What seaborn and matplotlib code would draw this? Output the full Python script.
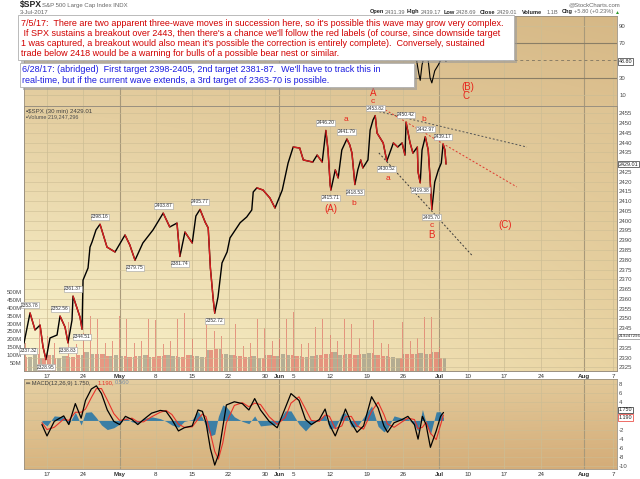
import numpy as np
import seaborn as sns
import matplotlib.pyplot as plt
import matplotlib.transforms as mtrans
from matplotlib.patches import Rectangle

sns.set_style("white")
plt.rcParams["font.family"] = ["Liberation Sans", "DejaVu Sans"]

# x = trading-day index, 0 = Mon 17 Apr 2017 (fraction = time inside the session)
price_day = [-3.17, -2.34, -1.65, -0.96, -0.55, -0.14, 0.41, 1.38, 1.79, 2.48,
             2.89, 3.44, 3.58, 4.13, 4.55, 4.82, 4.96, 5.65, 5.92, 6.2,
             6.75, 7.3, 8.26, 9.37, 10.74, 11.4, 12.12, 13.2, 14.6, 16.0,
             16.9, 17.9, 18.3, 19.0, 20.0, 20.5, 21.07, 21.8, 22.2, 22.5,
             22.9, 23.1, 23.55, 24.1, 24.8, 25.2, 26.6, 27.5, 28.2, 28.4,
             28.9, 29.75, 30.7, 31.4, 32.4, 33.2, 33.9, 34.8, 35.3, 36.6,
             37.2, 37.9, 38.4, 38.7, 39.0, 39.1, 39.7, 40.1, 40.6, 41.3,
             41.7, 42.0, 42.4, 42.8, 43.2, 43.5, 44.2, 44.5, 44.9, 45.2,
             45.45, 46.3, 46.8, 47.7, 48.3, 48.9, 49.3, 49.45, 50.0, 50.4,
             51.0, 51.1, 51.4, 51.65, 52.1, 52.5, 52.75, 53.0, 53.4, 53.9,
             54.3, 54.55, 54.8, 54.95]
price = [2337.4, 2352.8, 2344.1, 2346.6, 2335.4, 2328.95, 2340.0, 2341.5, 2351.2, 2345.6,
         2337.5, 2349.1, 2361.4, 2355.3, 2350.6, 2344.5, 2369.6, 2375.8, 2386.5, 2389.1,
         2395.3, 2398.2, 2386.5, 2384.0, 2392.7, 2387.6, 2379.8, 2388.6, 2395.3, 2403.9,
         2396.8, 2398.8, 2381.7, 2394.2, 2388.6, 2402.4, 2405.8, 2399.1, 2396.3, 2375.8,
         2359.4, 2352.7, 2361.0, 2378.4, 2384.0, 2391.2, 2399.0, 2401.9, 2405.5, 2414.7,
         2416.8, 2415.7, 2411.6, 2406.5, 2415.7, 2429.5, 2437.7, 2437.2, 2431.1, 2430.0,
         2433.6, 2430.0, 2446.2, 2436.2, 2418.3, 2415.7, 2426.0, 2421.9, 2436.2, 2441.8,
         2438.7, 2434.6, 2418.5, 2426.0, 2431.1, 2427.0, 2431.1, 2446.4, 2451.6, 2453.8,
         2444.9, 2439.8, 2430.5, 2439.8, 2437.7, 2439.8, 2433.6, 2450.4, 2439.8, 2434.6,
         2437.7, 2425.0, 2419.4, 2436.2, 2443.0, 2436.2, 2421.9, 2405.7, 2419.8, 2426.0,
         2429.5, 2439.2, 2436.2, 2429.0]

# volume per session (millions): opening bar, typical intraday bar, closing bar
vol_day = list(range(-3, 55))
vol_open = [180, 200, 170, 220, 180, 200, 190, 170, 240, 210,
            200, 180, 190, 200, 170, 180, 190, 200, 180, 170,
            190, 210, 180, 200, 190, 230, 250, 220, 180, 170,
            160, 180, 150, 200, 190, 210, 200, 190, 170, 180,
            190, 200, 230, 190, 200, 190, 210, 220, 190, 180,
            170, 160, 230, 190, 210, 190, 200, 150]
vol_mid = [90, 105, 85, 100, 85, 95, 90, 100, 120, 105,
           110, 95, 100, 95, 90, 95, 100, 90, 95, 100,
           95, 90, 100, 95, 90, 130, 140, 110, 100, 95,
           90, 95, 85, 100, 95, 110, 100, 95, 90, 95,
           100, 105, 120, 100, 105, 100, 110, 115, 100, 95,
           90, 85, 110, 105, 115, 110, 120, 80]
vol_close = [300, 330, 260, 300, 250, 310, 260, 290, 350, 330,
             385, 330, 350, 330, 350, 320, 330, 320, 340, 300,
             330, 370, 330, 300, 320, 375, 390, 330, 300, 330,
             290, 330, 270, 310, 385, 330, 375, 300, 320, 280,
             330, 350, 310, 330, 300, 340, 380, 320, 300, 330,
             290, 310, 418, 260, 344, 344, 344, 219]

# MACD(12,26,9)
macd_day = [-0.7, 0, 1, 2.3, 3, 3.9, 4.7, 5.3, 6.1, 6.8,
            7.5, 8.3, 9.2, 10, 10.8, 11.7, 12.5, 13.3, 14.4, 15.6,
            16.4, 17.2, 18.1, 18.9, 20, 20.8, 21.4, 21.9, 22.5, 23.1,
            23.6, 24.2, 24.7, 25.8, 26.9, 27.8, 28.6, 29.4, 30.6, 31.7,
            32.8, 33.6, 34.7, 35.6, 36.4, 37.5, 38.3, 38.9, 39.7, 40.6,
            41.1, 41.9, 42.7, 43.6, 44.7, 45.6, 46.4, 46.9, 47.8, 48.9,
            49.7, 50.6, 51.1, 51.7, 52.2, 52.8, 53.6, 54.2, 54.6]
macd_line = [-0.9, -3.4, -0.2, 1.0, -0.9, 3.7, 0.5, 4.4, 6.9, 7.6,
             5.9, 2.3, -0.2, -0.9, 0.9, 0.2, -0.9, 0.2, 1.6, 2.2,
             2.0, 0.2, -2.3, -1.6, -1.2, 2.3, 2.0, -0.5, -6.2, -9.8,
             -7.6, -1.6, 3.4, 4.1, 3.7, 2.3, 4.8, 2.3, -0.2, -1.6,
             2.7, 5.9, 4.4, 0.2, -0.9, 0.2, 2.5, -0.9, -3.4, 0.2,
             2.5, -0.5, -2.6, -1.2, 5.2, 2.7, -1.2, -2.6, -0.5, 0.2,
             0.9, -0.9, -4.1, 0.9, -0.9, -5.9, -2.3, 0.9, 1.75]
macd_signal = [-0.5, -2.0, -1.5, 0.3, 0.0, 1.8, 1.8, 2.5, 5.0, 7.0,
               7.0, 4.5, 1.5, 0.0, 0.2, 0.5, -0.3, -0.3, 0.8, 1.8,
               2.2, 1.3, -0.8, -1.5, -1.4, 0.3, 1.4, 0.8, -2.8, -6.8,
               -8.5, -5.0, -0.5, 3.3, 3.9, 3.0, 3.8, 3.5, 0.8, -0.8,
               0.6, 3.8, 5.2, 2.5, 0.0, -0.2, 1.2, 0.9, -1.8, -1.2,
               0.8, 0.9, -1.2, -1.9, 2.0, 4.0, 1.3, -0.8, -1.5, -0.3,
               0.5, 0.2, -1.8, -1.5, -0.4, -2.8, -4.2, -1.0, 1.19]
macd_hist = [-0.4, -1.2, 1.0, 0.8, -0.8, 1.8, -1.0, 1.8, 1.9, 0.6,
             -1.0, -2.0, -1.6, -0.8, 0.6, -0.3, -0.6, 0.4, 0.8, 0.4,
             -0.2, -1.0, -1.5, -0.2, 0.2, 2.0, 0.6, -1.3, -3.4, -3.0,
             0.9, 3.4, 3.0, 0.8, -0.2, -0.7, 1.0, -1.2, -1.0, -0.8,
             2.1, 2.1, -0.8, -2.3, -0.9, 0.4, 1.3, -1.8, -1.6, 1.4,
             1.7, -1.4, -1.4, 0.7, 3.2, -1.3, -2.5, -1.8, 1.0, 0.5,
             0.4, -1.1, -2.3, 2.4, -0.5, -3.1, 1.9, 1.9, 0.56]

# RSI, only the tail is visible under the comment boxes
rsi_day = [49.0, 49.5, 50.0, 50.5, 50.9, 51.2, 51.4, 51.65, 52.1, 52.5,
           52.75, 53.0, 53.4, 53.9, 54.3, 54.55, 54.95]
rsi = [62, 55, 58, 52, 50, 35, 27, 45, 60, 50, 30, 24, 38, 45, 52, 58, 48.8]

tick_day = [0, 5, 10, 15, 20, 25, 30, 32, 34, 39, 44, 49, 54, 58, 63, 68, 74, 78]
tick_text = ["17", "24", "May", "8", "15", "22", "30", "Jun", "5", "12", "19",
             "26", "Jul", "10", "17", "24", "Aug", "7"]
month_text = ["May", "Jun", "Jul", "Aug"]

# StockCharts price labels
lab_day = [-2.34, 1.79, 3.58, 7.3, 16.0, 21.07, 38.4, 41.3, 45.2, 49.45, 52.1, 54.55,
           -2.6, -0.14, 2.89, 4.82, 12.12, 18.3, 23.1, 39.1, 42.4, 46.8, 51.4, 53.0]
lab_price = [2352.8, 2351.2, 2361.4, 2398.2, 2403.9, 2405.8, 2446.2, 2441.8, 2453.8, 2450.4, 2443.0, 2439.2,
             2337.4, 2328.95, 2337.5, 2344.5, 2379.8, 2381.7, 2352.7, 2415.7, 2418.5, 2430.5, 2419.4, 2405.7]
lab_text = ["2353.78", "2352.56", "2361.37", "2398.16", "2403.87", "2405.77", "2446.20",
            "2441.79", "2453.82", "2450.42", "2442.97", "2439.17",
            "2337.32", "2328.95", "2338.83", "2344.51", "2379.75", "2381.74", "2352.72",
            "2415.71", "2418.53", "2430.52", "2419.38", "2405.70"]
lab_above = [True] * 12 + [False] * 12

# Elliott wave labels
wave_text = ["A", "c", "(B)", "C", "a", "(A)", "b", "a", "b", "c", "B", "(C)"]
wave_day = [44.9, 44.8, 57.9, 57.7, 41.2, 39.1, 42.3, 47.0, 51.9, 53.0, 53.0, 63.1]
wave_price = [2465.5, 2460.8, 2468.5, 2463.9, 2452.0, 2405.8, 2409.0, 2421.8, 2451.8,
              2397.5, 2392.8, 2397.8]
wave_size = [7, 6, 7, 7, 6, 7, 6, 6, 6, 6, 7, 7]

# hand-drawn trend lines: (day0, price0, day1, price1)
trend_lines = {
    "upper": (44.2, 2457.2, 66.1, 2437.7),
    "red": (46.6, 2456.7, 64.7, 2417.3),
    "lower": (45.7, 2434.7, 58.5, 2382.4),
}
trend_colors = {"upper": "#555555", "red": "#e03a30", "lower": "#3a3a3a"}

note1 = ["7/5/17:  There are two apparent three-wave moves in succession here, so it's possible this wave may grow very complex.",
         " If SPX sustains a breakout over 2443, then there's a chance we'll follow the red labels (of course, since downside target",
         "1 was captured, a breakout would also mean it's possible the correction is entirely complete).  Conversely, sustained",
         "trade below 2418 would be a warning for bulls of a possible bear nest or similar."]
note2 = ["6/28/17: (abridged)  First target 2398-2405, 2nd target 2381-87.  We'll have to track this in",
         "real-time, but if the current wave extends, a 3rd target of 2363-70 is possible."]

W, H = 640, 479
XL = (-3.17, 78.5)
GRID = (0.80, 0.74, 0.58)
TXT = "#4a4a4a"


def rect(x0, y0, x1, y1):
    return [x0 / W, 1 - y1 / H, (x1 - x0) / W, (y1 - y0) / H]


def shade(ax, tl, tr, bl, br):
    c = np.array([[tl, tr], [bl, br]], dtype=float) / 255
    u = np.linspace(0, 1, 64)[None, :, None]
    v = np.linspace(0, 1, 64)[:, None, None]
    top = c[0, 0] * (1 - u) + c[0, 1] * u
    bot = c[1, 0] * (1 - u) + c[1, 1] * u
    ax.imshow(top * (1 - v) + bot * v, extent=[0, 1, 0, 1], transform=ax.transAxes,
              aspect="auto", zorder=0, interpolation="bilinear")


def frame(ax):
    for s in ax.spines.values():
        s.set_color("#9a9080")
        s.set_linewidth(0.6)
    ax.tick_params(length=0, labelsize=4.3, labelcolor=TXT, pad=1.5)


def vgrid(ax):
    for d, t in zip(tick_day, tick_text):
        strong = t in month_text
        ax.axvline(d, color=(0.66, 0.6, 0.48) if strong else GRID,
                   lw=0.8 if strong else 0.5, zorder=0.5)


def right_box(ax, value, text, edge, va="center", size=3.9):
    tr = mtrans.blended_transform_factory(ax.transAxes, ax.transData)
    ax.text(1.003, value, text, transform=tr, fontsize=size, va=va, ha="left",
            color="#222222", clip_on=False, zorder=6,
            bbox=dict(boxstyle="square,pad=0.15", fc="white", ec=edge, lw=0.5))


def tick_labels(values, skip, fmt="{}"):
    return [("" if v in skip else fmt.format(v)) for v in values]


fig = plt.figure(figsize=(6.4, 4.79), dpi=100)
fig.patch.set_facecolor("white")

ax_rsi = fig.add_axes(rect(24, 16, 617, 106))
ax_vol = fig.add_axes(rect(24, 106, 617, 371))
ax_px = ax_vol.twinx()
ax_macd = fig.add_axes(rect(24, 379, 617, 469))

# ---- RSI panel
shade(ax_rsi, (222, 198, 150), (214, 184, 134), (229, 207, 162), (221, 193, 144))
vgrid(ax_rsi)
for lvl in [10, 90]:
    ax_rsi.axhline(lvl, color=GRID, lw=0.5, zorder=0.5)
for lvl in [30, 70]:
    ax_rsi.axhline(lvl, color="#8a7e66", lw=0.8, zorder=0.6)
ax_rsi.axhline(50, color="#8a7e66", lw=0.7, ls=(0, (3, 3)), zorder=0.6)
sns.lineplot(x=rsi_day, y=rsi, ax=ax_rsi, color="black", lw=0.8, sort=False, estimator=None)
ax_rsi.set_xlim(*XL)
ax_rsi.set_ylim(-2.8, 101.6)
ax_rsi.yaxis.tick_right()
ax_rsi.set_yticks([10, 30, 70, 90])
ax_rsi.set_xticks([])
frame(ax_rsi)
right_box(ax_rsi, rsi[-1], "48.80", "#333333")

# ---- volume (behind the price)
shade(ax_vol, (228, 206, 160), (222, 196, 148), (251, 245, 207), (233, 212, 163))
vgrid(ax_vol)
for d, vo, vm, vc in zip(vol_day, vol_open, vol_mid, vol_close):
    heights = [vo] + [vm] * 11 + [vc]
    xs = [d + (i + 0.5) / 13 for i in range(13)]
    cols = [(0.88, 0.45, 0.40, 0.7) if i % 2 == 0 else (0.58, 0.57, 0.50, 0.65) for i in range(13)]
    ax_vol.bar(xs, heights, width=0.85 / 13, color=cols, linewidth=0, zorder=1)
ax_vol.set_xlim(*XL)
ax_vol.set_ylim(0, 1677)
vt = list(range(50, 550, 50))
ax_vol.set_yticks(vt)
ax_vol.set_yticklabels([f"{v}M" for v in vt])
ax_vol.set_xticks(tick_day)
ax_vol.set_xticklabels(tick_text)
for lbl in ax_vol.get_xticklabels():
    if lbl.get_text() in month_text:
        lbl.set_fontweight("bold")
frame(ax_vol)
ax_vol.tick_params(axis="x", labelsize=4.5, labelcolor="#333333", pad=2)

# ---- price
for y in range(2325, 2460, 5):
    ax_px.axhline(y, color=GRID, lw=0.4, zorder=0.5)
sns.lineplot(x=price_day, y=price, ax=ax_px, color="black", lw=1.0, sort=False,
             estimator=None, zorder=3)
for i in range(len(price) - 1):
    if price[i + 1] < price[i]:
        ax_px.plot(price_day[i:i + 2], price[i:i + 2], color="#d81e1e", lw=1.0, zorder=3.2)

for key, (d0, p0, d1, p1) in trend_lines.items():
    ax_px.plot([d0, d1], [p0, p1], color=trend_colors[key], lw=0.7, ls=(0, (2, 2)), zorder=3.5)

for d, p, t, up in zip(lab_day, lab_price, lab_text, lab_above):
    ax_px.annotate(t, (d, p), xytext=(0, 5 if up else -5), textcoords="offset pixels",
                   ha="center", va="bottom" if up else "top", fontsize=3.5, color="#333333",
                   zorder=5, bbox=dict(boxstyle="square,pad=0.1", fc="white", ec="#a0a0a0", lw=0.4))

for t, d, p, s in zip(wave_text, wave_day, wave_price, wave_size):
    ax_px.text(d, p, t, color="#e8241c", fontsize=s, ha="center", va="center",
               clip_on=False, zorder=6)

pt = list(range(2325, 2460, 5))
ax_px.set_xlim(*XL)
ax_px.set_ylim(2323.1, 2458.7)
ax_px.set_yticks(pt)
ax_px.set_yticklabels(tick_labels(pt, [2430, 2340]))
ax_px.set_ylabel("")
frame(ax_px)
right_box(ax_px, 2429.01, "2429.01", "#333333")
right_box(ax_vol, 219.2, "219247296", "#888888", size=3.2)

# ---- MACD
shade(ax_macd, (229, 207, 162), (226, 200, 152), (216, 180, 127), (212, 172, 120))
vgrid(ax_macd)
for y in range(-10, 10, 2):
    ax_macd.axhline(y, color=GRID, lw=0.4, zorder=0.5)
ax_macd.fill_between(macd_day, 0, macd_hist, color="#2a78a8", lw=0, alpha=0.9, zorder=1)
sns.lineplot(x=macd_day, y=macd_signal, ax=ax_macd, color="#e8322a", lw=0.8, sort=False, estimator=None)
sns.lineplot(x=macd_day, y=macd_line, ax=ax_macd, color="black", lw=0.9, sort=False, estimator=None)
mt = list(range(-10, 10, 2))
ax_macd.set_xlim(*XL)
ax_macd.set_ylim(-10.66, 9.1)
ax_macd.yaxis.tick_right()
ax_macd.set_yticks(mt)
ax_macd.set_yticklabels(tick_labels(mt, [0, 2]))
ax_macd.set_xticks(tick_day)
ax_macd.set_xticklabels(tick_text)
for lbl in ax_macd.get_xticklabels():
    if lbl.get_text() in month_text:
        lbl.set_fontweight("bold")
frame(ax_macd)
ax_macd.tick_params(axis="x", labelsize=4.5, labelcolor="#333333", pad=2)
right_box(ax_macd, 1.75, "1.750", "#222222", va="bottom")
right_box(ax_macd, 1.19, "1.190", "#e8322a", va="top")


def ftext(x, y, s, **kw):
    fig.text(x / W, 1 - y / H, s, va="center", **kw)


# panel captions
ftext(26, 111, "\u25aa$SPX (30 min) 2429.01", fontsize=4.4, color="#404040")
ftext(26, 117, "\u25aaVolume 219,247,296", fontsize=4.0, color="#505050")
ftext(26, 383, "\u2550 MACD(12,26,9) 1.750,", fontsize=4.2, color="#404040")
ftext(98, 383, "1.190,", fontsize=4.2, color="#e8322a")
ftext(115, 383, "0.560", fontsize=4.2, color="#7a90a8")

# header
ftext(20, 5, "$SPX", fontsize=6.2, fontweight="bold", color="#222222")
ftext(42, 5, "S&P 500 Large Cap Index INDX", fontsize=4.3, color="#666666")
ftext(20, 12, "3-Jul-2017", fontsize=4.3, color="#666666")
fig.text(620 / W, 1 - 5 / H, "@StockCharts.com", fontsize=4.3, color="#666666", ha="right", va="center")
header_parts = [("Open", 370, True), ("2431.39", 385, False), ("High", 407, True),
                ("2439.17", 421, False), ("Low", 444, True), ("2428.69", 456, False),
                ("Close", 480, True), ("2429.01", 497, False), ("Volume", 522, True),
                ("1.1B", 547, False), ("Chg", 562, True), ("+5.80 (+0.23%)", 574, False)]
for s, x, bold in header_parts:
    ftext(x, 12, s, fontsize=4.1, fontweight="bold" if bold else "normal",
          color="#222222" if bold else "#666666")
ftext(615, 12, "\u25b2", fontsize=3.6, color="#2a9a2a")

# comment boxes
for (x0, y0, x1, y1) in [(18, 15, 514, 60), (20, 63, 414, 87)]:
    fig.patches.append(Rectangle((x0 / W + 2.5 / W, 1 - y1 / H - 2.5 / H), (x1 - x0) / W, (y1 - y0) / H,
                                 transform=fig.transFigure, fc="#9a9a9a", ec="none", alpha=0.6, zorder=7))
    fig.patches.append(Rectangle((x0 / W, 1 - y1 / H), (x1 - x0) / W, (y1 - y0) / H,
                                 transform=fig.transFigure, fc="white", ec="#b0b0b0", lw=0.6, zorder=8))
for i, line in enumerate(note1):
    fig.text(21 / W, 1 - (23 + 10.3 * i) / H, line, fontsize=6.5, color="#d10000",
             va="center", ha="left", zorder=9)
for i, line in enumerate(note2):
    fig.text(22 / W, 1 - (70 + 10.5 * i) / H, line, fontsize=6.5, color="#1c1ce0",
             va="center", ha="left", zorder=9)

fig.savefig("out.png", dpi=100)
